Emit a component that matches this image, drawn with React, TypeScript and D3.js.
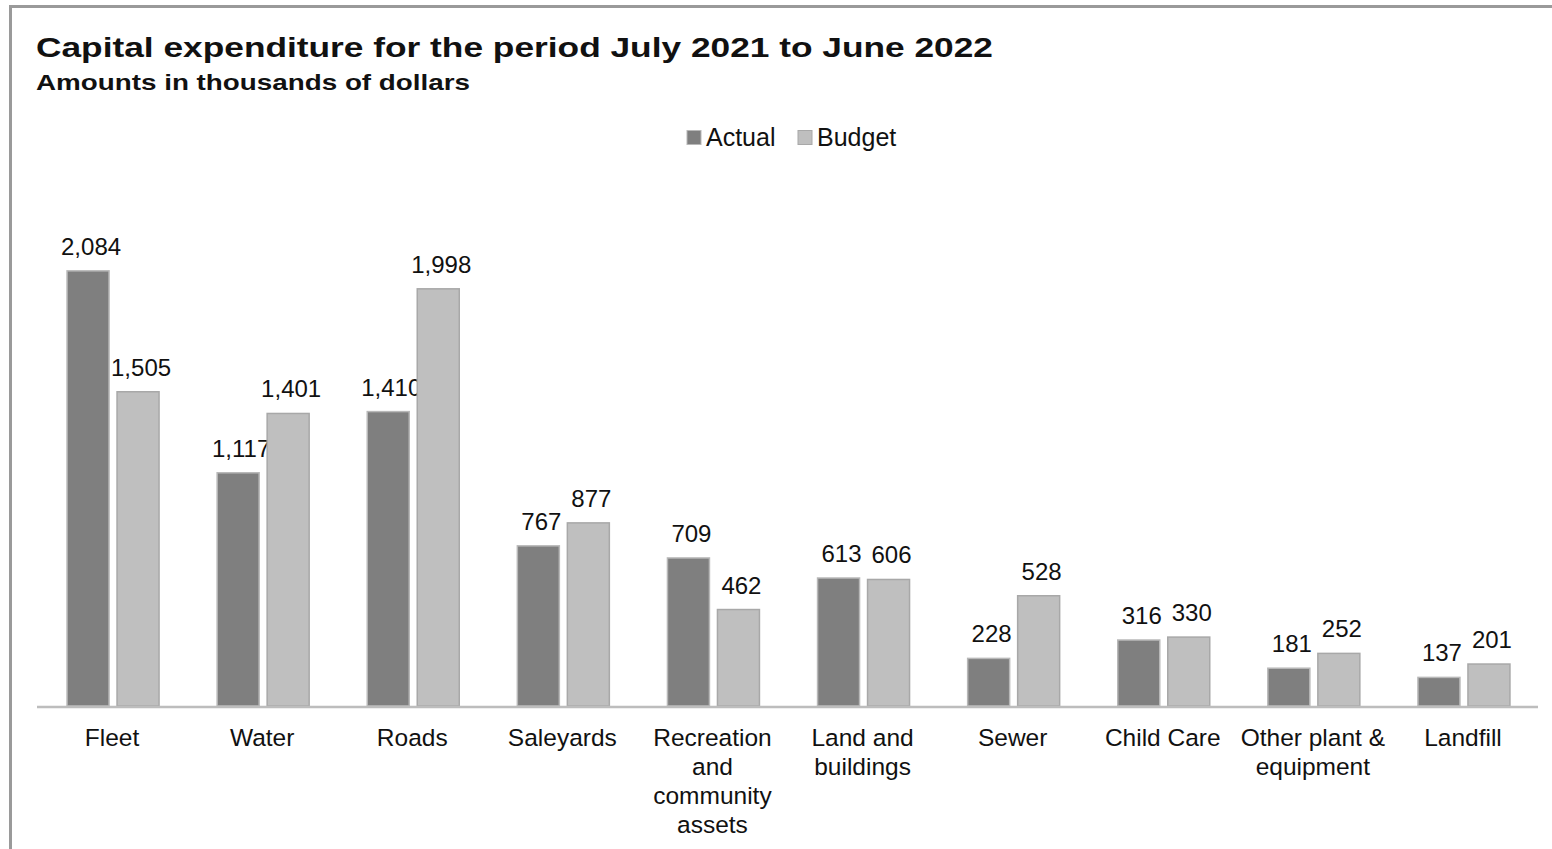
import React from "react";
import * as d3 from "d3";

const categories = [
  "Fleet",
  "Water",
  "Roads",
  "Saleyards",
  "Recreation and community assets",
  "Land and buildings",
  "Sewer",
  "Child Care",
  "Other plant & equipment",
  "Landfill",
];
const actualValues = [2084, 1117, 1410, 767, 709, 613, 228, 316, 181, 137];
const budgetValues = [1505, 1401, 1998, 877, 462, 606, 528, 330, 252, 201];
const seriesNames = ["Actual", "Budget"];
const seriesColors = ["#7f7f7f", "#bfbfbf"];
const seriesStrokes = ["#b8b8b8", "#a8a8a8"];

const W = 1552;
const H = 849;
const FONT = "'Liberation Sans', Arial, Helvetica, sans-serif";

let ctx: CanvasRenderingContext2D | null = null;
function measure(text: string, size: number): number {
  if (!ctx) ctx = document.createElement("canvas").getContext("2d");
  if (!ctx) return text.length * size * 0.5;
  ctx.font = `${size}px ${FONT}`;
  return ctx.measureText(text).width;
}
function wrap(text: string, maxW: number, size: number): string[] {
  const words = text.split(" ");
  const lines: string[] = [];
  let cur = "";
  for (const w of words) {
    const t = cur ? cur + " " + w : w;
    if (cur && measure(t, size) > maxW) {
      lines.push(cur);
      cur = w;
    } else cur = t;
  }
  if (cur) lines.push(cur);
  return lines;
}

export default function App() {
  const margin = { left: 37, right: 14, top: 184, bottom: 143 };
  const x0 = d3
    .scaleBand<string>()
    .domain(categories)
    .range([margin.left, W - margin.right])
    .paddingInner(0)
    .paddingOuter(0);
  const x1 = d3
    .scaleBand<string>()
    .domain(seriesNames)
    .range([0, 92])
    .paddingInner(8 / 50);
  const groupOffset = (x0.bandwidth() - 92) / 2 + 1;
  const y = d3
    .scaleLinear()
    .domain([0, 2500])
    .range([H - margin.bottom, margin.top]);
  const fmt = d3.format(",");
  const series = [actualValues, budgetValues];
  const labelSize = 24;
  const catSize = 24.5;

  return (
    <svg
      width={W}
      height={H}
      style={{ position: "absolute", left: 0, top: 0, background: "#fff" }}
      fontFamily={FONT}
    >
      <rect x={10.5} y={6.5} width={W + 20} height={H + 20} fill="#fff" stroke="#9a9a9a" strokeWidth={3} />
      <text x={36} y={57} fontSize={28.5} fontWeight="bold" fill="#111" textLength={957} lengthAdjust="spacingAndGlyphs">
        Capital expenditure for the period July 2021 to June 2022
      </text>
      <text x={36} y={90} fontSize={22.5} fontWeight="bold" fill="#111" textLength={434} lengthAdjust="spacingAndGlyphs">
        Amounts in thousands of dollars
      </text>

      {/* legend */}
      <g>
        {seriesNames.map((s, i) => {
          const lx = i === 0 ? 687 : 798;
          return (
            <g key={s}>
              <rect x={lx} y={130.5} width={14} height={14} fill={seriesColors[i]} stroke={seriesStrokes[i]} strokeWidth={1} />
              <text x={lx + 19} y={146} fontSize={25} fill="#111">
                {s}
              </text>
            </g>
          );
        })}
      </g>

      {/* bars */}
      {categories.map((c, ci) => (
        <g key={c} transform={`translate(${(x0(c) ?? 0) + groupOffset},0)`}>
          {series.map((vals, si) => {
            const bx = x1(seriesNames[si]) ?? 0;
            const bw = x1.bandwidth();
            const top = y(vals[ci]);
            return (
              <g key={si}>
                <rect
                  x={bx}
                  y={top}
                  width={bw}
                  height={y(0) - top}
                  fill={seriesColors[si]}
                  stroke={seriesStrokes[si]}
                  strokeWidth={1.5}
                />
                <text
                  x={bx + bw / 2 + 3}
                  y={top - 16}
                  fontSize={labelSize}
                  textAnchor="middle"
                  fill="#111"
                >
                  {fmt(vals[ci])}
                </text>
              </g>
            );
          })}
        </g>
      ))}

      {/* axis line */}
      <line
        x1={margin.left}
        x2={W - margin.right}
        y1={y(0) + 1}
        y2={y(0) + 1}
        stroke="#bdbdbd"
        strokeWidth={2.5}
      />

      {/* category labels */}
      {categories.map((c) => {
        const lines = wrap(c, 152, catSize);
        const cx = (x0(c) ?? 0) + x0.bandwidth() / 2;
        return (
          <text key={c} x={cx} y={y(0) + 40} fontSize={catSize} textAnchor="middle" fill="#111">
            {lines.map((l, i) => (
              <tspan key={i} x={cx} dy={i === 0 ? 0 : 29}>
                {l}
              </tspan>
            ))}
          </text>
        );
      })}
    </svg>
  );
}
